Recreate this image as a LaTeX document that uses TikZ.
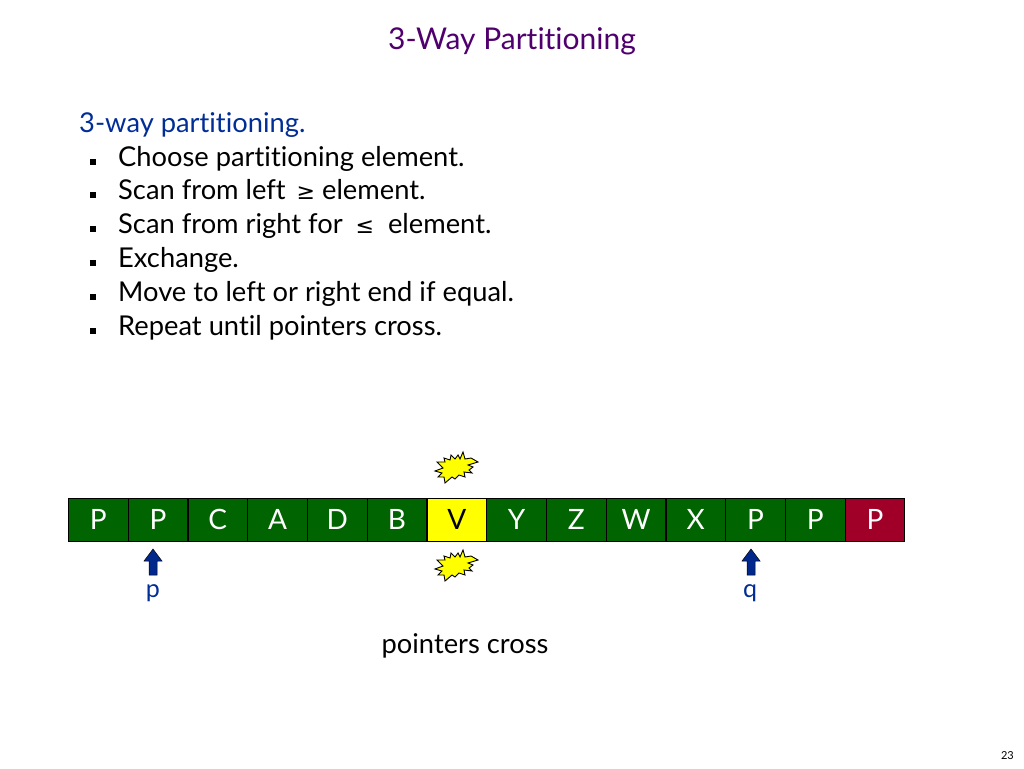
\documentclass[tikz,border=0pt]{standalone}
\usepackage{fontspec}
\setmainfont[Ligatures=NoCommon]{Lato}
\newfontfamily\symfont{DejaVu Sans}
\definecolor{ttl}{RGB}{80,0,110}
\definecolor{hd}{RGB}{0,45,150}
\definecolor{grn}{RGB}{0,100,0}
\definecolor{red2}{RGB}{160,0,40}
\definecolor{yel}{RGB}{255,255,0}
\definecolor{arr}{RGB}{0,40,140}
\tikzset{
 x=1pt,y=-1pt,
 txt/.style={anchor=base west,inner sep=0,font=\fontsize{27.3}{31}\selectfont},
 itm/.style={txt,text=black},
 bul/.style={fill=black,draw=none,minimum size=5.5pt,inner sep=0},
 cell/.style={draw=black,line width=.8pt,minimum width=59.7pt,minimum height=43pt,inner sep=0,anchor=north west,font=\fontsize{28}{32}\selectfont,text=white,fill=grn},
 burst/.style={fill=yel,draw=black,line width=.9pt,line join=miter},
 uparr/.style={fill=arr,draw=black,line width=.5pt},
 lab/.style={inner sep=0,text=hd,font=\fontsize{25}{28}\selectfont},
}
\newcommand{\burstat}[2]{%
 \draw[burst,shift={(#1,#2)}] (-22,4) -- (-14,1) -- (-20,-5) -- (-12,-5) -- (-13,-9) -- (-7,-7) -- (-6,-12) -- (-2,-8) -- (1,-12) -- (3,-8) -- (6,-15) -- (8,-8) -- (14,-9) -- (21,-5) -- (11,-2) -- (16,0) -- (12,3) -- (15,6) -- (7,5) -- (8,10) -- (2,8) -- (-2,12) -- (-5,10) -- (-12,16) -- (-13,10) -- (-19,10) -- (-15,6) -- cycle;}
\begin{document}
\begin{tikzpicture}
\useasboundingbox (0,0) rectangle (1024,768);
\node[txt,text=ttl,anchor=base,font=\fontsize{30}{34}\selectfont] (title) at (512,49) {3-Way Partitioning};
\node[txt,text=hd] (head) at (79,132) {3-way partitioning.};
\foreach \n/\yy/\t in {a/166/Choose partitioning element.,
 b/199/Scan from left\hspace{4pt} {\symfont\fontsize{22}{26}\selectfont ≥} element.,
 c/233/Scan from right for\hspace{6pt} {\symfont\fontsize{22}{26}\selectfont ≤}\ \ element.,
 d/267/Exchange.,
 e/301/Move to left or right end if equal.,
 f/335/Repeat until pointers cross.}{
 \node[itm] (item\n) at (118,\yy) {\t};
 \node[bul] (bul\n) at (93,\yy-4) {};
}
\foreach \i/\l/\c in {0/P/grn,1/P/grn,2/C/grn,3/A/grn,4/D/grn,5/B/grn,6/V/yel,7/Y/grn,8/Z/grn,9/W/grn,10/X/grn,11/P/grn,12/P/grn,13/P/red2}{
 \node[cell,fill=\c] (c\i) at ({68+59.75*\i},498) {\ifnum\i=6 \textcolor{black}{\l}\else\l\fi};
}
\burstat{457}{467}
\burstat{457}{565}
\node[lab,anchor=base] (p) at (153,597) {p};
\node[lab,anchor=base] (q) at (750,597) {q};
\foreach \xx in {153,751}{
 \draw[uparr,shift={(\xx,0)}] (0,549) -- (9,561) -- (4,561) -- (4,575) -- (-4,575) -- (-4,561) -- (-9,561) -- cycle;
}
\node[itm,anchor=base] (cross) at (465,653) {pointers cross};
\node[inner sep=0,font=\fontsize{11}{13}\selectfont,anchor=base east] (num) at (1014,759) {23};
\end{tikzpicture}
\end{document}
